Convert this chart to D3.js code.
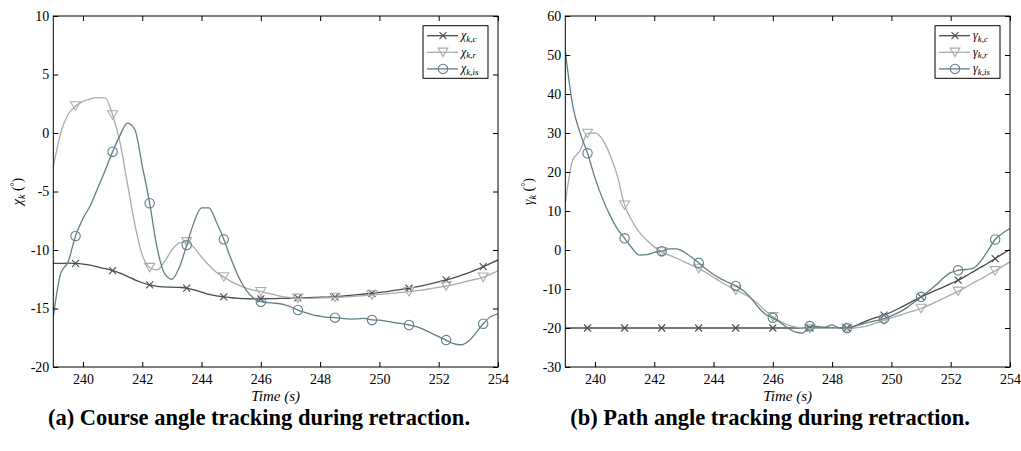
<!DOCTYPE html>
<html>
<head>
<meta charset="utf-8">
<script src="https://cdn.jsdelivr.net/npm/d3@7"></script>
<style>
  body { margin: 0; background: #fff; }
  svg text { font-family: "Liberation Serif", serif; }
</style>
</head>
<body>
<script>
// sample times (s), one row per second
const times = [
  239, 239.25, 239.5, 239.75,
  240, 240.25, 240.5, 240.75,
  241, 241.25, 241.5, 241.75,
  242, 242.25, 242.5, 242.75,
  243, 243.25, 243.5, 243.75,
  244, 244.25, 244.5, 244.75,
  245, 245.25, 245.5, 245.75,
  246, 246.25, 246.5, 246.75,
  247, 247.25, 247.5, 247.75,
  248, 248.25, 248.5, 248.75,
  249, 249.25, 249.5, 249.75,
  250, 250.25, 250.5, 250.75,
  251, 251.25, 251.5, 251.75,
  252, 252.25, 252.5, 252.75,
  253, 253.25, 253.5, 253.75,
  254
];
const markerTimes = [239.75, 241, 242.25, 243.5, 244.75, 246, 247.25, 248.5, 249.75, 251, 252.25, 253.5];

// (a) course angle
const chiC = [
  -11.15, -11.15, -11.12, -11.14,
  -11.2, -11.3, -11.45, -11.6,
  -11.77, -11.98, -12.25, -12.55,
  -12.8, -12.99, -13.1, -13.15,
  -13.18, -13.2, -13.25, -13.4,
  -13.6, -13.8, -13.93, -14.0,
  -14.08, -14.13, -14.16, -14.18,
  -14.17, -14.16, -14.15, -14.13,
  -14.12, -14.1, -14.08, -14.06,
  -14.04, -14.02, -14.0, -13.95,
  -13.88, -13.82, -13.76, -13.7,
  -13.63, -13.56, -13.46, -13.37,
  -13.27, -13.15, -13.02, -12.88,
  -12.72, -12.56, -12.38, -12.17,
  -11.95, -11.7, -11.43, -11.15,
  -10.85
];
const chiR = [
  -2.9, 0.0, 1.6, 2.31,
  2.7, 2.92, 3.02, 3.0,
  1.54, -0.8, -4.3, -7.8,
  -10.4, -11.5, -11.7, -11.0,
  -10.0, -9.4, -9.3, -9.8,
  -10.6, -11.3, -11.9, -12.3,
  -12.7, -13.0, -13.25, -13.42,
  -13.56, -13.7, -13.85, -13.98,
  -14.07, -14.13, -14.14, -14.12,
  -14.1, -14.08, -14.05, -14.02,
  -13.98, -13.94, -13.9, -13.85,
  -13.8, -13.74, -13.68, -13.62,
  -13.56, -13.48, -13.4, -13.3,
  -13.2, -13.08, -12.95, -12.8,
  -12.65, -12.5, -12.33, -12.07,
  -11.77
];
const chiIs = [
  -15.7, -12.0, -11.0, -8.8,
  -7.3, -6.2, -4.7, -3.2,
  -1.6, -0.2, 0.85, 0.3,
  -2.8, -6.0, -9.8, -12.0,
  -12.5, -11.5, -9.57, -7.6,
  -6.4, -6.4, -7.6, -9.09,
  -10.8, -12.3, -13.4, -14.1,
  -14.42, -14.5, -14.55, -14.65,
  -14.85, -15.13, -15.35, -15.55,
  -15.65, -15.75, -15.78, -15.85,
  -15.9, -15.88, -15.85, -15.98,
  -16.0, -16.1, -16.2, -16.3,
  -16.41, -16.55, -16.8, -17.1,
  -17.4, -17.7, -18.0, -18.1,
  -17.8, -17.1, -16.3, -15.7,
  -15.45
];

// (b) path angle
const gammaC = [
  -20, -20, -20, -20,
  -20, -20, -20, -20,
  -20, -20, -20, -20,
  -20, -20, -20, -20,
  -20, -20, -20, -20,
  -20, -20, -20, -20,
  -20, -20, -20, -20,
  -20, -20, -20, -20,
  -20, -20, -20, -20,
  -20, -20, -20, -19.5,
  -18.7, -17.9, -17.3, -16.7,
  -15.9, -15.0, -14.0, -13.0,
  -12.0, -11.2, -10.3, -9.5,
  -8.6, -7.75, -6.7, -5.6,
  -4.5, -3.4, -2.2, -1.0,
  0.1
];
const gammaR = [
  12, 23, 25.5, 29.9,
  30.0, 28.4, 24.5, 19.2,
  11.5, 7.5, 4.5, 2.5,
  0.8, -0.5, -1.3, -2.1,
  -3.0, -3.9, -4.75, -5.8,
  -7.0, -8.2, -9.3, -10.3,
  -11.2, -12.3, -13.8, -15.6,
  -17.1, -18.3, -19.2, -19.7,
  -20.0, -20.1, -20.1, -20.1,
  -20.1, -20.1, -20.1, -20.0,
  -19.8, -19.3, -18.7, -18.0,
  -17.4, -16.8, -16.2, -15.6,
  -15.0, -14.2, -13.3, -12.4,
  -11.5, -10.6, -9.6, -8.5,
  -7.5, -6.4, -5.35, -4.2,
  -3.05
];
const gammaIs = [
  51, 37, 30, 24.8,
  18.5, 13.3, 9.0, 5.5,
  3.0, 0.5, -1.3, -1.2,
  -0.6, -0.3, 0.3, 0.3,
  -0.5, -1.8, -3.3, -4.9,
  -6.3, -7.4, -8.3, -9.2,
  -10.4, -12.2, -14.6, -16.5,
  -17.4, -18.6, -20.0, -21.0,
  -21.3, -19.5, -19.6, -19.8,
  -19.2, -20.0, -20.0, -19.6,
  -19.0, -18.5, -18.1, -17.6,
  -16.9, -16.0, -14.9, -13.5,
  -12.0, -10.6, -9.0, -7.2,
  -5.8, -5.2, -5.0, -4.7,
  -3.0, -0.2, 2.7, 4.3,
  5.5
];

const xTicks = [240, 242, 244, 246, 248, 250, 252, 254];
const chiTicks = [-20, -15, -10, -5, 0, 5, 10];
const gammaTicks = [-30, -20, -10, 0, 10, 20, 30, 40, 50, 60];
const seriesSubs = ["k,c", "k,r", "k,is"];
const seriesColors = ["#4b4b4b", "#ababab", "#5f7f86"];
const seriesMarkers = ["x", "tri", "circ"];

const WIDTH = 1021, HEIGHT = 451;

const svg = d3.select("body").append("svg")
  .attr("width", WIDTH)
  .attr("height", HEIGHT);

function markerPath(kind) {
  if (kind === "x") return "M-3.5,-3.5L3.5,3.5M-3.5,3.5L3.5,-3.5";
  if (kind === "tri") return "M-5,-4.2L5,-4.2L0,4.3Z";
  return d3.arc()({ innerRadius: 0, outerRadius: 4.7, startAngle: 0, endAngle: 2 * Math.PI });
}

const panels = [
  { left: 53.3, right: 498, top: 16, bottom: 367, yDomain: [-20, 10], yTicks: chiTicks,
    data: [chiC, chiR, chiIs], sym: "\u03C7", labelX: 22, captionX: 259,
    caption: "(a) Course angle tracking during retraction." },
  { left: 565.3, right: 1010, top: 16, bottom: 367, yDomain: [-30, 60], yTicks: gammaTicks,
    data: [gammaC, gammaR, gammaIs], sym: "\u03B3", labelX: 533, captionX: 770,
    caption: "(b) Path angle tracking during retraction." }
];

panels.forEach(p => {
  const x = d3.scaleLinear().domain([239, 254]).range([p.left, p.right]);
  const y = d3.scaleLinear().domain(p.yDomain).range([p.bottom, p.top]);
  const g = svg.append("g");

  // clip so lines stay inside the box
  const clipId = "clip" + p.sym.charCodeAt(0);
  svg.append("clipPath").attr("id", clipId).append("rect")
    .attr("x", p.left).attr("y", p.top)
    .attr("width", p.right - p.left).attr("height", p.bottom - p.top);

  const line = d3.line()
    .x((d, i) => x(times[i]))
    .y(d => y(d))
    .curve(d3.curveMonotoneX);

  const plot = g.append("g").attr("clip-path", `url(#${clipId})`);
  p.data.forEach((vals, s) => {
    plot.append("path")
      .attr("d", line(vals))
      .attr("fill", "none")
      .attr("stroke", seriesColors[s])
      .attr("stroke-width", 1.3);
    const pts = markerTimes.map(t => [t, vals[times.indexOf(t)]]);
    plot.selectAll(null).data(pts).enter().append("path")
      .attr("transform", d => `translate(${x(d[0])},${y(d[1])})`)
      .attr("d", markerPath(seriesMarkers[s]))
      .attr("fill", "none")
      .attr("stroke", seriesColors[s])
      .attr("stroke-width", 1.1);
  });

  // axes, ticks pointing inward on all four sides
  const styleAxis = sel => {
    sel.attr("font-family", "Liberation Serif");
    sel.select(".domain").remove();
    sel.selectAll("line").attr("stroke", "#000");
    sel.selectAll("text").attr("fill", "#000")
      .style("font-family", "'Liberation Serif', serif").style("font-size", "14px");
  };
  g.append("g").attr("transform", `translate(0,${p.bottom})`)
    .call(d3.axisBottom(x).tickValues(xTicks).tickSize(-5).tickPadding(7).tickFormat(d => String(d)))
    .call(styleAxis);
  g.append("g").attr("transform", `translate(0,${p.top})`)
    .call(d3.axisTop(x).tickValues(xTicks).tickSize(-5).tickFormat(""))
    .call(styleAxis);
  g.append("g").attr("transform", `translate(${p.left},0)`)
    .call(d3.axisLeft(y).tickValues(p.yTicks).tickSize(-5).tickPadding(4).tickFormat(d => String(d)))
    .call(styleAxis);
  g.append("g").attr("transform", `translate(${p.right},0)`)
    .call(d3.axisRight(y).tickValues(p.yTicks).tickSize(-5).tickFormat(""))
    .call(styleAxis);

  g.append("rect")
    .attr("x", p.left).attr("y", p.top)
    .attr("width", p.right - p.left).attr("height", p.bottom - p.top)
    .attr("fill", "none").attr("stroke", "#000").attr("stroke-width", 1);

  // x label
  g.append("text")
    .attr("x", (p.left + p.right) / 2).attr("y", 401)
    .attr("text-anchor", "middle")
    .style("font-size", "15px")
    .style("font-style", "italic")
    .text("Time (s)");

  // y label
  const yl = g.append("text")
    .attr("transform", `translate(${p.labelX},${(p.top + p.bottom) / 2}) rotate(-90)`)
    .attr("text-anchor", "middle")
    .style("font-size", "14px");
  yl.append("tspan").style("font-style", "italic").text(p.sym);
  yl.append("tspan").style("font-style", "italic").style("font-size", "10px").attr("dy", 3).text("k");
  yl.append("tspan").attr("dy", -3).text(" (");
  yl.append("tspan").style("font-size", "10px").attr("dy", -4).text("\u00B0");
  yl.append("tspan").attr("dy", 4).text(")");

  // legend
  const lx = p.right - 10 - 65, ly = p.top + 9.7;
  const lg = g.append("g").attr("transform", `translate(${lx},${ly})`);
  lg.append("rect").attr("width", 65).attr("height", 52.6)
    .attr("fill", "#fff").attr("stroke", "#000").attr("stroke-width", 1);
  seriesSubs.forEach((sub, s) => {
    const ry = 10 + s * 16.6;
    lg.append("line").attr("x1", 4).attr("x2", 35).attr("y1", ry).attr("y2", ry)
      .attr("stroke", seriesColors[s]).attr("stroke-width", 1.3);
    lg.append("path").attr("transform", `translate(20,${ry})`)
      .attr("d", markerPath(seriesMarkers[s]))
      .attr("fill", "none").attr("stroke", seriesColors[s]).attr("stroke-width", 1.1);
    const t = lg.append("text").attr("x", 38).attr("y", ry + 3.5)
      .style("font-size", "12px").style("font-style", "italic");
    t.append("tspan").text(p.sym);
    t.append("tspan").attr("dy", 2.5).style("font-size", "9px").text(sub);
  });

  // caption
  svg.append("text")
    .attr("x", p.captionX).attr("y", 425)
    .attr("text-anchor", "middle")
    .style("font-family", "Liberation Serif")
    .style("font-weight", "bold")
    .style("font-size", "22.5px")
    .text(p.caption);
});
</script>
</body>
</html>
